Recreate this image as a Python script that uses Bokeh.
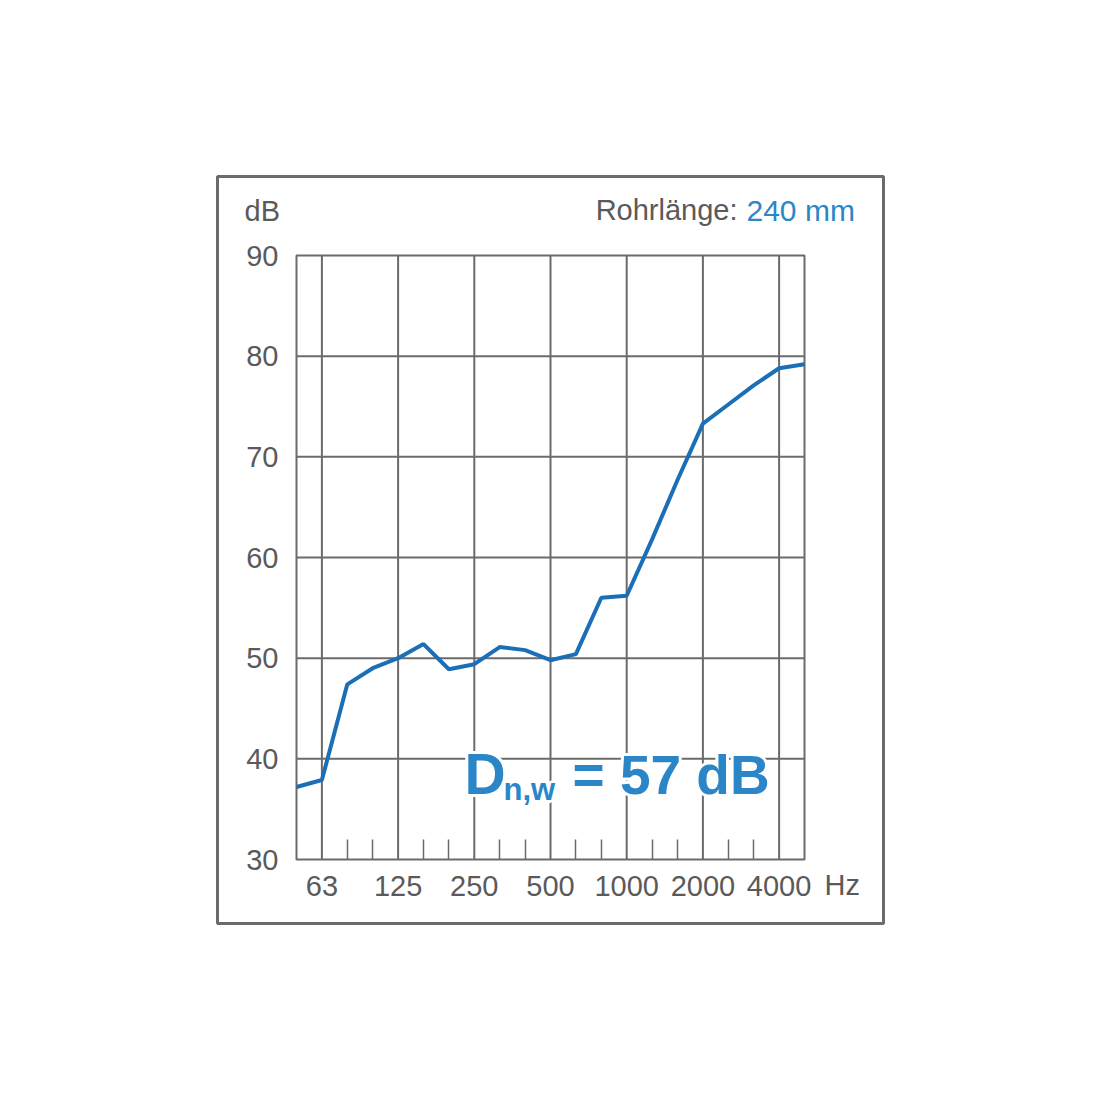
from bokeh.plotting import figure
from bokeh.models import FixedTicker, Label, Range1d
from bokeh.embed import file_html
from bokeh.resources import INLINE

# third-octave band centre frequencies (Hz) and normalised level difference (dB)
bands = [50, 63, 80, 100, 125, 160, 200, 250, 315, 400, 500, 630, 800,
         1000, 1250, 1600, 2000, 2500, 3150, 4000, 5000]
dnw = [37.2, 37.9, 47.4, 49.0, 50.0, 51.4, 48.9, 49.4, 51.1, 50.8, 49.8,
       50.4, 56.0, 56.2, 61.8, 67.7, 73.3, 75.2, 77.1, 78.8, 79.2]
labelled_bands = [63, 125, 250, 500, 1000, 2000, 4000]
y_ticks = [30, 40, 50, 60, 70, 80, 90]

idx = list(range(len(bands)))
n_last = len(bands) - 1
major_idx = [bands.index(b) for b in labelled_bands]
minor_idx = [i for i in idx[1:-1] if i not in major_idx]
y_lo, y_hi = y_ticks[0], y_ticks[-1]

FONT = "Liberation Sans"
GREY = "#5a5a5a"
LINE_GREY = "#6b6b6b"
BLUE = "#1b6fb7"
BLUE_TXT = "#2b86c8"

# frame = the outer box; the inner chart area (band 0..20, 30..90 dB)
# sits inside it at 25.4 px per band and ~10.07 px per dB
PX_BAND = 25.4
PX_DB = 604 / 60.0
p = figure(frame_width=666, frame_height=747,
           min_border_left=217, min_border_top=176,
           min_border_right=201, min_border_bottom=161,
           x_range=Range1d(-79 / PX_BAND, n_last + 79 / PX_BAND),
           y_range=Range1d(y_lo - 64 / PX_DB, y_hi + 79 / PX_DB),
           output_backend="svg", toolbar_location=None)
p.background_fill_color = "white"
p.border_fill_color = "white"
p.outline_line_color = LINE_GREY
p.outline_line_width = 3
p.grid.visible = False

# inner grid and box
p.segment(x0=major_idx, y0=[y_lo] * len(major_idx), x1=major_idx,
          y1=[y_hi] * len(major_idx), line_color=LINE_GREY, line_width=2)
p.segment(x0=[0] * 5, y0=y_ticks[1:-1], x1=[n_last] * 5, y1=y_ticks[1:-1],
          line_color=LINE_GREY, line_width=2)
p.quad(left=[0], right=[n_last], bottom=[y_lo], top=[y_hi], fill_color=None,
       line_color=LINE_GREY, line_width=2)

# x axis drawn along the bottom of the inner chart
xa = p.xaxis[0]
xa.fixed_location = y_lo
xa.bounds = (0, n_last)
xa.ticker = FixedTicker(ticks=major_idx, minor_ticks=minor_idx)
xa.major_label_overrides = {i: str(b) for i, b in zip(major_idx, labelled_bands)}
xa.axis_line_color = None
xa.major_tick_in = 0
xa.major_tick_out = 0
xa.minor_tick_in = 20
xa.minor_tick_out = 0
xa.minor_tick_line_color = LINE_GREY
xa.minor_tick_line_width = 1.5
xa.major_label_standoff = 16
xa.major_label_text_font = FONT
xa.major_label_text_font_size = "29px"
xa.major_label_text_color = GREY

# y axis along the left of the inner chart
ya = p.yaxis[0]
ya.fixed_location = 0
ya.bounds = (y_lo, y_hi)
ya.ticker = FixedTicker(ticks=y_ticks, minor_ticks=[])
ya.axis_line_color = None
ya.major_tick_in = 0
ya.major_tick_out = 0
ya.major_label_standoff = 18
ya.major_label_text_font = FONT
ya.major_label_text_font_size = "29px"
ya.major_label_text_color = GREY

p.line(idx, dnw, line_color=BLUE, line_width=4)


def px2x(px):
    return (px - 296) / PX_BAND


def py2y(py):
    return y_hi - (py - 255) / PX_DB


def dlabel(px, py, text, color, align="left", size=29, style="normal",
           dx=0, dy=0):
    # py is the wanted baseline; compensate the renderer's baseline shift
    py = py - 0.38 * size
    p.add_layout(Label(x=px2x(px), y=py2y(py), text=text, x_offset=dx,
                       y_offset=dy, text_font=FONT,
                       text_font_size=f"{size}px",
                       text_font_style=style, text_color=color,
                       text_align=align, text_baseline="alphabetic"))


dlabel(244, 222, "dB", GREY)
dlabel(737, 221, "Rohrlänge:", GREY, align="right")
dlabel(746, 221, "240 mm", BLUE_TXT, size=30)
dlabel(824, 896, "Hz", GREY)

# Dn,w label with a white halo that breaks the grid lines
halo = [(-3, 0), (3, 0), (0, -3), (0, 3), (-2, -2), (2, 2), (-2, 2), (2, -2)]
parts = [(464, 795, "D", 57), (503, 801, "n,w", 31),
         (572, 795, "= 57 dB", 55)]
for color, offs in (("white", halo), (BLUE_TXT, [(0, 0)])):
    for (px, py, t, s) in parts:
        for dx, dy in offs:
            dlabel(px, py, t, color, size=s, style="bold", dx=dx, dy=dy)

open("out.html", "w").write(file_html(p, INLINE))
